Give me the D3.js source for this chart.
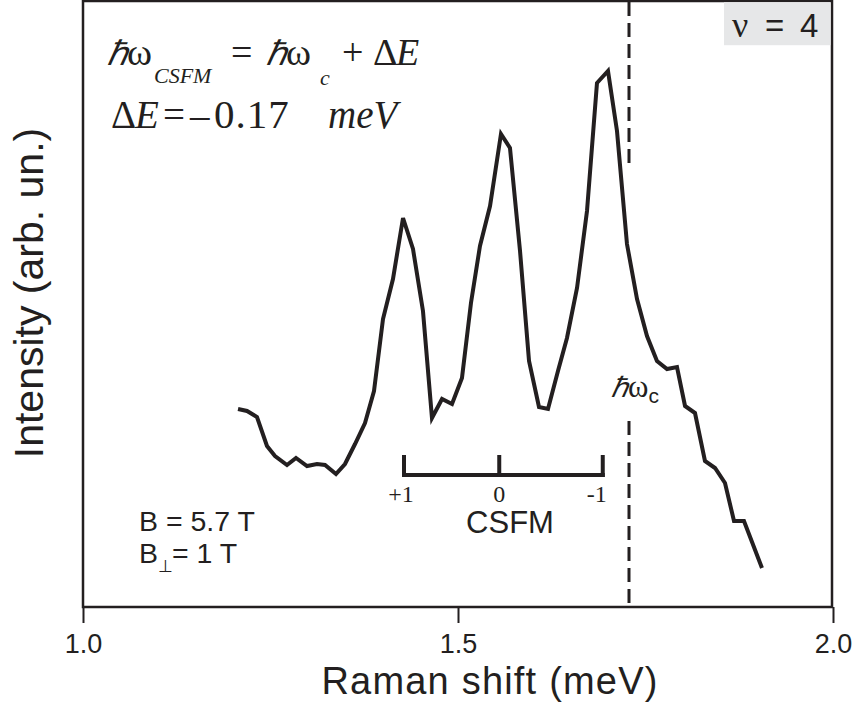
<!DOCTYPE html>
<html>
<head>
<meta charset="utf-8">
<script src="https://cdn.jsdelivr.net/npm/d3@7"></script>
<style>
  html, body { margin: 0; padding: 0; background: #ffffff; }
  svg { display: block; }
</style>
</head>
<body>
<svg id="chart" width="858" height="708"></svg>
<script>
// ---- data ----
const ramanShift = [1.2067, 1.2187, 1.232, 1.2453, 1.256, 1.272, 1.284, 1.2987, 1.312, 1.3227,
  1.3373, 1.3493, 1.3627, 1.376, 1.388, 1.4, 1.4133, 1.4267, 1.44, 1.4533,
  1.4653, 1.4787, 1.492, 1.5053, 1.5173, 1.5293, 1.5427, 1.5573, 1.5693, 1.5827,
  1.5947, 1.608, 1.62, 1.6333, 1.6453, 1.6587, 1.672, 1.6853, 1.7, 1.712,
  1.7253, 1.7387, 1.752, 1.7653, 1.7787, 1.792, 1.8027, 1.816, 1.8293, 1.8427,
  1.856, 1.868, 1.8813, 1.9053];
const intensity = [1.98, 1.96, 1.90, 1.61, 1.51, 1.42, 1.49, 1.41, 1.43, 1.42,
  1.33, 1.43, 1.63, 1.84, 2.16, 2.88, 3.28, 3.89, 3.58, 2.96,
  1.89, 2.08, 2.03, 2.29, 3.04, 3.61, 4.01, 4.73, 4.59, 3.56,
  2.46, 2.00, 1.98, 2.36, 2.69, 3.19, 3.96, 5.24, 5.36, 4.76,
  3.63, 3.08, 2.71, 2.46, 2.38, 2.40, 2.01, 1.94, 1.46, 1.39,
  1.24, 0.86, 0.86, 0.39];
const xTicks = [1.0, 1.5, 2.0];
const hwc = 1.728;                       // cyclotron energy marker
const hwcDashSegments = [[6.05, 4.43], [1.86, 0]];
const csfmPositions = [1.428, 1.555, 1.693];
const csfmLabels = ["+1", "0", "-1"];

// ---- layout ----
const svg = d3.select("#chart");
const pLeft = 83, pRight = 832, pTop = 1, pBottom = 607;
const ink = "#231f20";
const sans = "Liberation Sans, Arial, sans-serif";
const serif = "Liberation Serif, Times New Roman, serif";
const x = d3.scaleLinear().domain([1.0, 2.0]).range([pLeft, pRight + 1]);
const y = d3.scaleLinear().domain([0, 6.06]).range([pBottom, pTop]);

// frame
svg.append("rect")
  .attr("x", pLeft).attr("y", pTop)
  .attr("width", pRight - pLeft).attr("height", pBottom - pTop)
  .attr("fill", "none").attr("stroke", ink).attr("stroke-width", 2.5);

// nu box
svg.append("rect").attr("x", 724).attr("y", 2.2).attr("width", 106.5).attr("height", 43)
  .attr("fill", "#e6e7e8");
const nuT = svg.append("text").attr("x", 732).attr("y", 37).attr("fill", ink);
nuT.append("tspan").attr("font-size", 36).attr("font-family", serif).text("ν");
nuT.append("tspan").attr("x", 765).attr("font-size", 33).attr("font-family", sans).text("=");
nuT.append("tspan").attr("x", 800).attr("font-size", 33).attr("font-family", sans).text("4");

// x axis
const xAxis = d3.axisBottom(x).tickValues(xTicks).tickFormat(d3.format(".1f"))
  .tickSize(16).tickPadding(8);
const gx = svg.append("g").attr("transform", `translate(0,${pBottom})`).call(xAxis);
gx.select(".domain").remove();
gx.selectAll(".tick line").attr("stroke", ink).attr("stroke-width", 2);
gx.selectAll(".tick text").attr("fill", ink).attr("font-size", 27)
  .attr("font-family", sans)
  .attr("dy", null).attr("y", 46);

// axis titles
svg.append("text").attr("x", 490).attr("y", 694).attr("text-anchor", "middle")
  .attr("font-size", 38).attr("letter-spacing", 1.2).attr("fill", ink)
  .attr("font-family", sans)
  .text("Raman shift (meV)");
svg.append("text").attr("transform", "translate(43,293) rotate(-90)")
  .attr("text-anchor", "middle").attr("font-size", 41).attr("fill", ink)
  .attr("font-family", sans)
  .text("Intensity (arb. un.)");

// dashed cyclotron line
hwcDashSegments.forEach(seg => {
  svg.append("line").attr("x1", x(hwc)).attr("x2", x(hwc))
    .attr("y1", y(seg[0])).attr("y2", y(seg[1]))
    .attr("stroke", ink).attr("stroke-width", 3)
    .attr("stroke-dasharray", "14,7");
});

// spectrum
const pts = ramanShift.map((d, i) => [d, intensity[i]]);
svg.append("path").datum(pts)
  .attr("fill", "none").attr("stroke", ink).attr("stroke-width", 4)
  .attr("stroke-linejoin", "miter")
  .attr("d", d3.line().x(d => x(d[0])).y(d => y(d[1])));

// hbar omega_c label
const hw = svg.append("text").attr("x", 611).attr("y", 397).attr("fill", ink);
hw.append("tspan").attr("font-family", serif).attr("font-style", "italic")
  .attr("font-size", 28).text("ℏ");
hw.append("tspan").attr("font-family", serif)
  .attr("font-size", 31).text("ω");
hw.append("tspan").attr("font-family", sans)
  .attr("font-size", 21).attr("dy", 6).text("c");

// CSFM scale bar
const barY = 475;
svg.append("line").attr("x1", x(csfmPositions[0]) - 2).attr("x2", x(csfmPositions[2]) + 2)
  .attr("y1", barY).attr("y2", barY).attr("stroke", ink).attr("stroke-width", 4);
csfmPositions.forEach((p, i) => {
  svg.append("line").attr("x1", x(p)).attr("x2", x(p))
    .attr("y1", barY + 2).attr("y2", 455).attr("stroke", ink).attr("stroke-width", 4);
  svg.append("text").attr("x", x(p) + (i === 0 ? -3 : (i === 2 ? -6 : 0))).attr("y", 502)
    .attr("text-anchor", "middle").attr("font-size", 24).attr("fill", ink)
    .attr("font-family", serif)
    .text(csfmLabels[i]);
});
svg.append("text").attr("x", 510).attr("y", 533).attr("text-anchor", "middle")
  .attr("font-size", 31).attr("fill", ink)
  .attr("font-family", sans).text("CSFM");

// B labels
svg.append("text").attr("x", 139).attr("y", 531).attr("font-size", 28.5).attr("fill", ink)
  .attr("font-family", sans).text("B = 5.7 T");
const bp = svg.append("text").attr("x", 139).attr("y", 563).attr("font-size", 28.5).attr("fill", ink)
  .attr("font-family", sans);
bp.append("tspan").text("B");
bp.append("tspan").attr("font-size", 17).attr("dy", 9).text("⊥");
bp.append("tspan").attr("dy", -9).attr("x", 172).text("= 1 T");

// equations (each line is one text element built from tspans)
function eqLine(yp, parts) {
  const t = svg.append("text").attr("y", yp).attr("fill", ink).attr("font-family", serif);
  parts.forEach(p => {
    const s = t.append("tspan").attr("x", p.x).attr("font-size", p.size)
      .attr("font-style", p.it ? "italic" : "normal").text(p.t);
    if (p.dy) s.attr("dy", p.dy);
    if (p.ls) s.attr("letter-spacing", p.ls);
  });
}
eqLine(65, [
  { x: 107, t: "ℏ", size: 34, it: true },
  { x: 127, t: "ω", size: 38 },
  { x: 154, t: "CSFM", size: 22, it: true, dy: 18 },
  { x: 231, t: "=", size: 38, dy: -18 },
  { x: 266, t: "ℏ", size: 34, it: true },
  { x: 286, t: "ω", size: 38 },
  { x: 320, t: "c", size: 22, it: true, dy: 20 },
  { x: 342, t: "+", size: 38, dy: -20 },
  { x: 373, t: "Δ", size: 38 },
  { x: 396, t: "E", size: 38, it: true }
]);
eqLine(128, [
  { x: 111, t: "Δ", size: 39 },
  { x: 135, t: "E", size: 39, it: true },
  { x: 163, t: "=", size: 39 },
  { x: 190, t: "–", size: 39 },
  { x: 214, t: "0.17", size: 41, ls: 1 },
  { x: 328, t: "meV", size: 39, it: true }
]);
</script>
</body>
</html>
